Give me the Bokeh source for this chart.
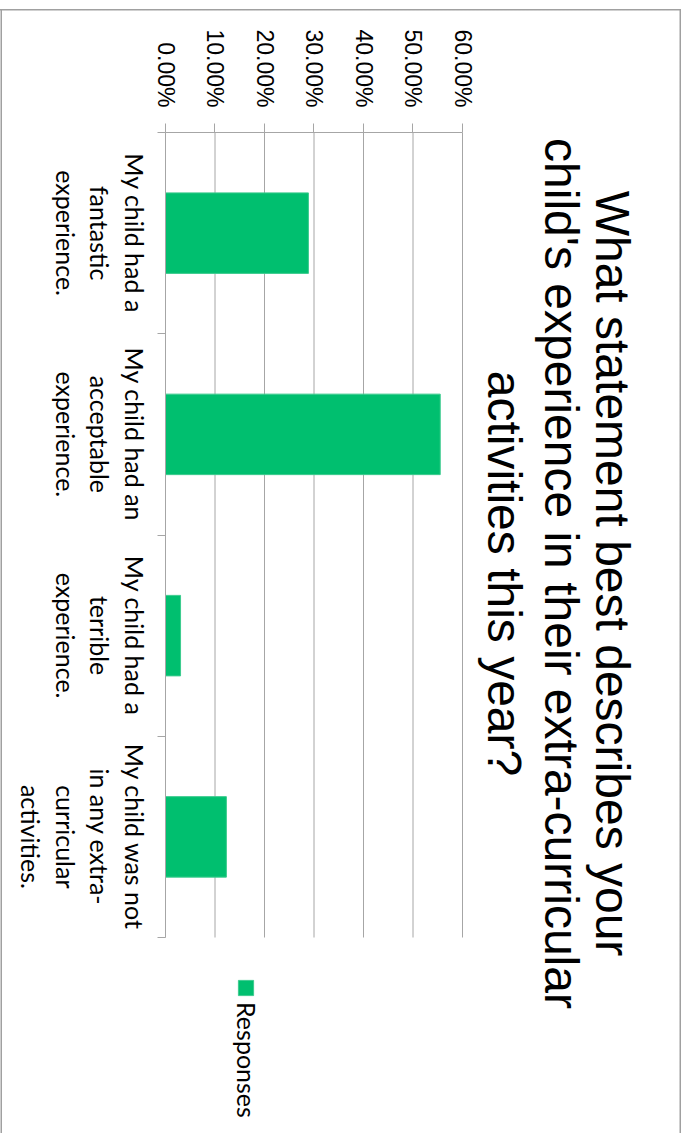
import numpy as np
from bokeh.plotting import figure
from bokeh.models import (Range1d, LinearAxis, FixedTicker, NumeralTickFormatter, Label,
                          Legend, LegendItem, ColumnDataSource)
from bokeh.embed import file_html
from bokeh.resources import INLINE

# ---------------- data ----------------
title_lines = ["What statement best describes your",
               "child's experience in their extra-curricular",
               "activities this year?"]
categories = ["My child had a\nfantastic\nexperience.",
              "My child had an\nacceptable\nexperience.",
              "My child had a\nterrible\nexperience.",
              "My child was not\nin any extra-\ncurricular\nactivities."]
responses = [0.2887, 0.5550, 0.0304, 0.1230]
value_ticks = [0.0, 0.1, 0.2, 0.3, 0.4, 0.5, 0.6]
series_name = "Responses"

# ---------------- style / layout ----------------
GREEN = "#00BF6F"
GRAY = "#a6a6a6"
BORDER = "#a0a0a0"

# The chart is laid out upright (1133 wide x 683 tall) on a square canvas and the
# canvas is then turned 90 deg clockwise, so that it fills the 683 x 1133 page.
W0, H0 = 1133, 683
CANVAS = 1133
B_LEFT, B_BOTTOM = 132, 166        # room for the value axis / category axis
PLOT_W, PLOT_H = 805, 297          # pixel size of the category span / 0..60% span
FRAME_H = H0 - B_BOTTOM

n = len(categories)
vmax = value_ticks[-1]
pos = np.arange(n) + 0.5
src = ColumnDataSource(dict(x=pos, v=responses))
grid_src = ColumnDataSource(dict(v=value_ticks))

x_end = n * (W0 - B_LEFT) / PLOT_W
y_end = vmax * FRAME_H / PLOT_H


def px_x(ox):
    return (ox - B_LEFT) * n / PLOT_W


def px_y(oy):
    return (FRAME_H - oy) * vmax / PLOT_H


line = f"linear-gradient({BORDER}, {BORDER})"
background = (f"{line} 9px 681px / {W0 - 9}px 1.5px no-repeat, "
              f"{line} 9px 1.5px / 1.5px {H0 - 2}px no-repeat, "
              f"{line} 9px 1.5px / {W0 - 9}px 1.5px no-repeat, white")

p = figure(width=CANVAS, height=CANVAS, output_backend="svg", toolbar_location=None,
           x_range=Range1d(0, x_end), y_range=Range1d(0, y_end),
           x_axis_location=None, y_axis_location=None,
           min_border_left=B_LEFT, min_border_bottom=CANVAS - FRAME_H,
           min_border_top=0, min_border_right=0,
           styles={"transform": f"translateX({H0}px) rotate(90deg)",
                   "transform-origin": "0 0",
                   "background": background})
p.outline_line_color = None
p.background_fill_alpha = 0
p.border_fill_alpha = 0
p.xgrid.visible = False
p.ygrid.visible = False

yaxis = LinearAxis(ticker=FixedTicker(ticks=value_ticks, minor_ticks=[]),
                   formatter=NumeralTickFormatter(format="0.00%"),
                   bounds=(value_ticks[0], vmax),
                   major_tick_out=9, major_tick_in=0,
                   axis_line_color=GRAY, major_tick_line_color=GRAY,
                   minor_tick_line_color=None,
                   major_label_text_font="Liberation Sans",
                   major_label_text_font_size="23px",
                   major_label_text_color="black",
                   major_label_standoff=16)
p.add_layout(yaxis, "left")

xaxis = LinearAxis(ticker=FixedTicker(ticks=list(pos), minor_ticks=list(range(n + 1))),
                   major_label_overrides={float(k): c for k, c in zip(pos, categories)},
                   bounds=(0, n),
                   major_tick_out=0, major_tick_in=0, major_tick_line_color=None,
                   minor_tick_out=8, minor_tick_in=0, minor_tick_line_color=GRAY,
                   axis_line_color=GRAY,
                   major_label_text_font="Lato",
                   major_label_text_font_size="25px",
                   major_label_text_line_height=1.15,
                   major_label_text_color="black",
                   major_label_standoff=8)
p.add_layout(xaxis, "below")

# horizontal grid lines at the value ticks, limited to the category span
p.segment(x0=0, x1=n, y0="v", y1="v", source=grid_src,
          line_color=GRAY, line_width=1, level="underlay")

r = p.vbar(x="x", top="v", bottom=0, width=0.4, source=src,
           fill_color=GREEN, line_color="#3ccb8e", line_width=1)

for yb, t in zip([70, 121, 178], title_lines):
    p.add_layout(Label(x=px_x(573), y=px_y(yb), text=t,
                       text_align="center", text_baseline="alphabetic",
                       text_font="Liberation Sans", text_font_size="48px",
                       text_color="black"))

legend = Legend(items=[LegendItem(label=series_name, renderers=[r])],
                location=(981 - 3 - B_LEFT, FRAME_H - 421 - 30),
                glyph_width=19, glyph_height=19, label_standoff=5,
                padding=0, margin=0, spacing=0,
                border_line_color=None, background_fill_alpha=0,
                label_text_font="Lato", label_text_font_size="25px",
                label_text_color="black")
p.add_layout(legend)

open("out.html", "w").write(file_html(p, INLINE))
